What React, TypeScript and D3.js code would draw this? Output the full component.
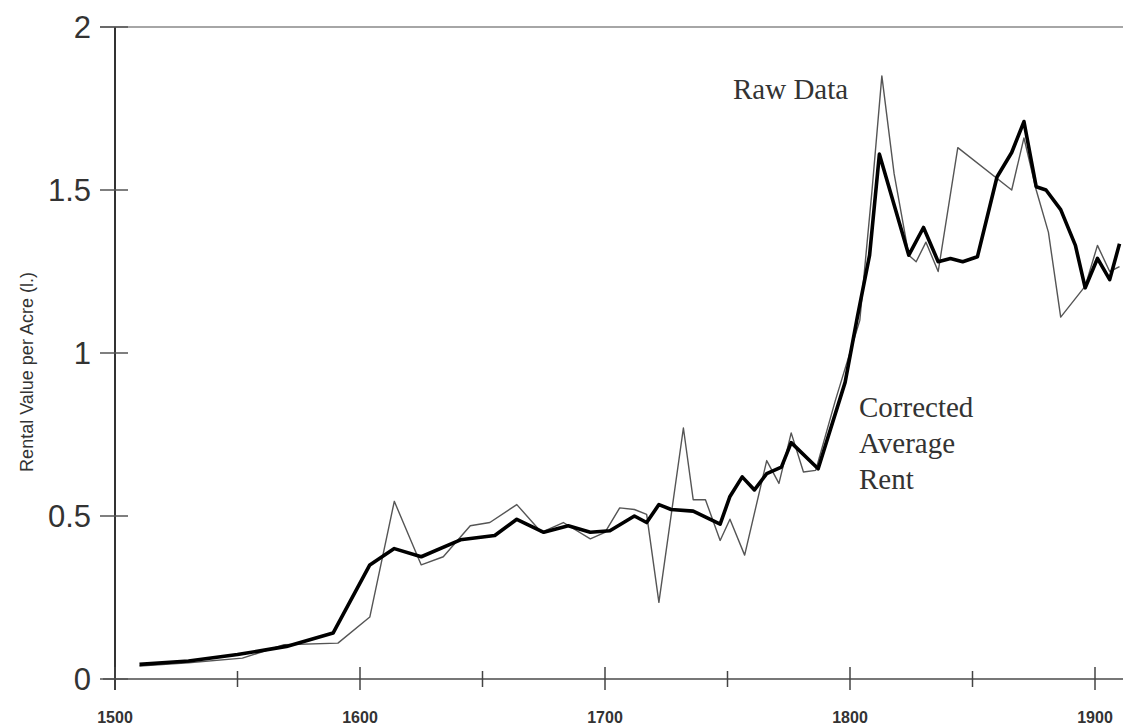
import * as d3 from 'd3'

// raw rent series (thin line)
const rawYears = [1510, 1530, 1552, 1569, 1591, 1604, 1614, 1625, 1634, 1645, 1653, 1664, 1674, 1683, 1694, 1700, 1706, 1712, 1717, 1722, 1732, 1736, 1741, 1747, 1751, 1757, 1766, 1771, 1776, 1781, 1786, 1794, 1804, 1809, 1813, 1818, 1824, 1827, 1831, 1836, 1844, 1866, 1871, 1876, 1881, 1886, 1896, 1901, 1906, 1910]
const rawRent = [0.04, 0.05, 0.064, 0.105, 0.11, 0.19, 0.545, 0.35, 0.375, 0.47, 0.48, 0.535, 0.45, 0.48, 0.43, 0.45, 0.525, 0.52, 0.505, 0.235, 0.77, 0.55, 0.55, 0.425, 0.49, 0.38, 0.67, 0.6, 0.755, 0.635, 0.64, 0.854, 1.1, 1.5, 1.85, 1.55, 1.3, 1.28, 1.34, 1.25, 1.63, 1.5, 1.66, 1.5, 1.37, 1.11, 1.205, 1.33, 1.25, 1.265]

// corrected average rent (thick line)
const corrYears = [1510, 1530, 1550, 1570, 1589, 1604, 1614, 1625, 1641, 1655, 1664, 1675, 1685, 1694, 1702, 1712, 1717, 1722, 1727, 1736, 1747, 1751, 1756, 1761, 1766, 1772, 1776, 1787, 1798, 1803, 1808, 1812, 1824, 1830, 1836, 1841, 1846, 1852, 1860, 1866, 1871, 1876, 1880, 1886, 1892, 1896, 1901, 1906, 1910]
const corrRent = [0.045, 0.055, 0.075, 0.1, 0.141, 0.35, 0.4, 0.375, 0.427, 0.44, 0.49, 0.45, 0.47, 0.45, 0.455, 0.5, 0.48, 0.535, 0.52, 0.515, 0.475, 0.56, 0.62, 0.58, 0.63, 0.65, 0.725, 0.645, 0.91, 1.11, 1.3, 1.61, 1.3, 1.385, 1.28, 1.29, 1.28, 1.295, 1.54, 1.615, 1.71, 1.51, 1.5, 1.44, 1.33, 1.2, 1.29, 1.225, 1.335]

const xMajor = [1500, 1600, 1700, 1800, 1900]
const xMinor = [1550, 1650, 1750, 1850]
const yTicks = [0, 0.5, 1, 1.5, 2]
const yTickLabels = ['0', '0.5', '1', '1.5', '2']

export default function App() {
  const width = 1123
  const height = 728

  const x = d3.scaleLinear().domain([1500, 1900]).range([115, 1095])
  const y = d3.scaleLinear().domain([0, 2]).range([679, 27])

  const line = d3.line<[number, number]>()
    .x(d => x(d[0]))
    .y(d => y(d[1]))

  const rawPath = line(rawYears.map((yr, i) => [yr, rawRent[i]])) ?? undefined
  const corrPath = line(corrYears.map((yr, i) => [yr, corrRent[i]])) ?? undefined

  return (
    <svg
      width={width}
      height={height}
      style={{position: 'absolute', left: 0, top: 0, background: '#fff'}}
    >
      {/* frame */}
      <line x1={100} x2={width} y1={y(2)} y2={y(2)} stroke={'#888'} strokeWidth={1.5} />
      <line x1={103} x2={width} y1={y(0)} y2={y(0)} stroke={'#777'} strokeWidth={2} />
      <line x1={x(1500)} x2={x(1500)} y1={y(2)} y2={690} stroke={'#333'} strokeWidth={2} />

      {/* y ticks */}
      <g fontFamily={'Liberation Sans'} fontSize={31} fill={'#333'}>
        {yTicks.map((t, i) => (
          <g key={t}>
            <line x1={100} x2={128} y1={y(t)} y2={y(t)} stroke={'#555'} strokeWidth={1.5} />
            <text x={91} y={y(t)} dy={'0.36em'} textAnchor={'end'}>
              {yTickLabels[i]}
            </text>
          </g>
        ))}
      </g>

      {/* x ticks */}
      {xMinor.map(t => (
        <line key={t} x1={x(t)} x2={x(t)} y1={671} y2={687} stroke={'#444'} strokeWidth={1.5} />
      ))}
      <g fontFamily={'Liberation Sans'} fontSize={16} fontWeight={700} fill={'#333'}>
        {xMajor.map(t => (
          <g key={t}>
            <line x1={x(t)} x2={x(t)} y1={667} y2={690} stroke={'#444'} strokeWidth={1.5} />
            <text x={x(t)} y={723} textAnchor={'middle'}>{t}</text>
          </g>
        ))}
      </g>

      <text
        transform={`translate(33, 372) rotate(-90)`}
        textAnchor={'middle'}
        fontFamily={'Liberation Sans'}
        fontSize={18}
        fill={'#333'}
      >
        Rental Value per Acre (l.)
      </text>

      {/* series */}
      <path d={rawPath} fill={'none'} stroke={'#555'} strokeWidth={1.4} strokeLinejoin={'round'} />
      <path d={corrPath} fill={'none'} stroke={'#000'} strokeWidth={3.6} strokeLinejoin={'round'} />

      {/* annotations */}
      <g fontFamily={'Liberation Serif'} fontSize={29} fill={'#333'}>
        <text x={733} y={99}>Raw Data</text>
        <text x={859} y={417}>Corrected</text>
        <text x={859} y={453}>Average</text>
        <text x={859} y={489}>Rent</text>
      </g>
    </svg>
  )
}
